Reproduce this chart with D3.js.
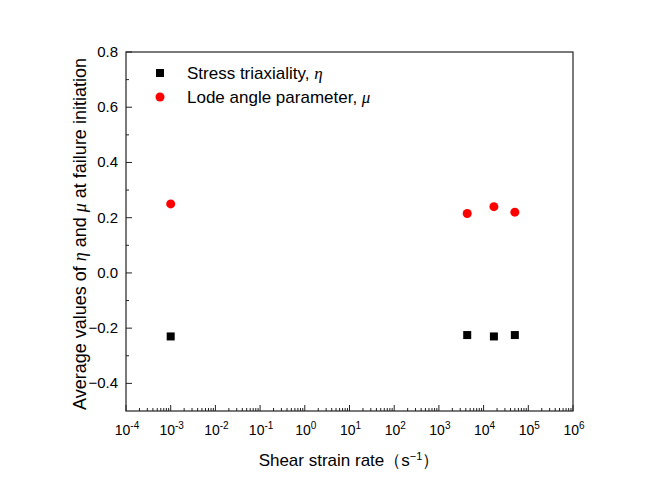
<!DOCTYPE html>
<html><head><meta charset="utf-8">
<script src="https://cdn.jsdelivr.net/npm/d3@7"></script>
<style>body{margin:0;background:#fff}svg{display:block}text{font-family:Arial,"Liberation Sans",sans-serif;fill:#000}</style>
</head><body>
<svg id="c" width="648" height="495"></svg>
<script>
const rates = [0.001, 4300, 17000, 50000];
const triaxiality = [-0.23, -0.225, -0.23, -0.225];
const lodeParam = [0.25, 0.215, 0.24, 0.22];
const xTickExps = [-4,-3,-2,-1,0,1,2,3,4,5,6];
const yTicks = [-0.4,-0.2,0.0,0.2,0.4,0.6,0.8];

const svg = d3.select("#c");
const L=126,R=573,T=52,B=411;
const x = d3.scaleLog().domain([1e-4,1e6]).range([L,R]);
const y = d3.scaleLinear().domain([-0.5,0.8]).range([B,T]);

svg.append("rect").attr("x",L).attr("y",T).attr("width",R-L).attr("height",B-T)
  .attr("fill","none").attr("stroke","#222").attr("stroke-width",1.2);

const g = svg.append("g");
xTickExps.forEach(e=>{
  const v=Math.pow(10,e);
  g.append("line").attr("x1",x(v)).attr("x2",x(v)).attr("y1",B).attr("y2",B-6).attr("stroke","#222");
  if(e<6){
    for(let k=2;k<=9;k++){
      const xv=x(k*v);
      g.append("line").attr("x1",xv).attr("x2",xv).attr("y1",B).attr("y2",B-3).attr("stroke","#222");
    }
  }
  const t=g.append("text").attr("x",x(v)+1).attr("y",B+24).attr("text-anchor","middle").attr("font-size",14);
  t.append("tspan").text("10");
  t.append("tspan").attr("dy",-6).attr("font-size",10).text(e<0?"-"+(-e):String(e));
});
yTicks.forEach(v=>{
  g.append("line").attr("x1",L).attr("x2",L+6).attr("y1",y(v)).attr("y2",y(v)).attr("stroke","#222");
  g.append("text").attr("x",L-8).attr("y",y(v)+5).attr("text-anchor","end").attr("font-size",15).text(d3.format(".1f")(v));
});
[-0.3,-0.1,0.1,0.3,0.5,0.7].forEach(v=>{
  g.append("line").attr("x1",L).attr("x2",L+3).attr("y1",y(v)).attr("y2",y(v)).attr("stroke","#222");
});

svg.append("g").selectAll("rect").data(rates).join("rect")
  .attr("x",(d)=>x(d)-4).attr("y",(d,i)=>y(triaxiality[i])-4).attr("width",8).attr("height",8).attr("fill","#000");
svg.append("g").selectAll("circle").data(rates).join("circle")
  .attr("cx",d=>x(d)).attr("cy",(d,i)=>y(lodeParam[i])).attr("r",4.5).attr("fill","#f00");

svg.append("rect").attr("x",156).attr("y",69).attr("width",8).attr("height",8).attr("fill","#000");
svg.append("circle").attr("cx",160).attr("cy",97).attr("r",4.5).attr("fill","#f00");
const l1=svg.append("text").attr("x",187).attr("y",79).attr("font-size",17);
l1.append("tspan").text("Stress triaxiality, ");
l1.append("tspan").attr("font-family","'Liberation Serif',serif").attr("font-style","italic").text("η");
const l2=svg.append("text").attr("x",187).attr("y",103).attr("font-size",17);
l2.append("tspan").text("Lode angle parameter, ");
l2.append("tspan").attr("font-family","'Liberation Serif',serif").attr("font-style","italic").text("μ");

const xt=svg.append("text").attr("x",349).attr("y",466).attr("text-anchor","middle").attr("font-size",17);
xt.append("tspan").text("Shear strain rate（s");
xt.append("tspan").attr("dy",-6).attr("font-size",11).text("−1");
xt.append("tspan").attr("dy",6).text("）");
const yt=svg.append("text").attr("transform","translate(86,234) rotate(-90)").attr("text-anchor","middle").attr("font-size",18);
yt.append("tspan").text("Average values of ");
yt.append("tspan").attr("font-family","'Liberation Serif',serif").attr("font-style","italic").text("η");
yt.append("tspan").text(" and ");
yt.append("tspan").attr("font-family","'Liberation Serif',serif").attr("font-style","italic").text("μ");
yt.append("tspan").text(" at failure initiation");
</script>
</body></html>
